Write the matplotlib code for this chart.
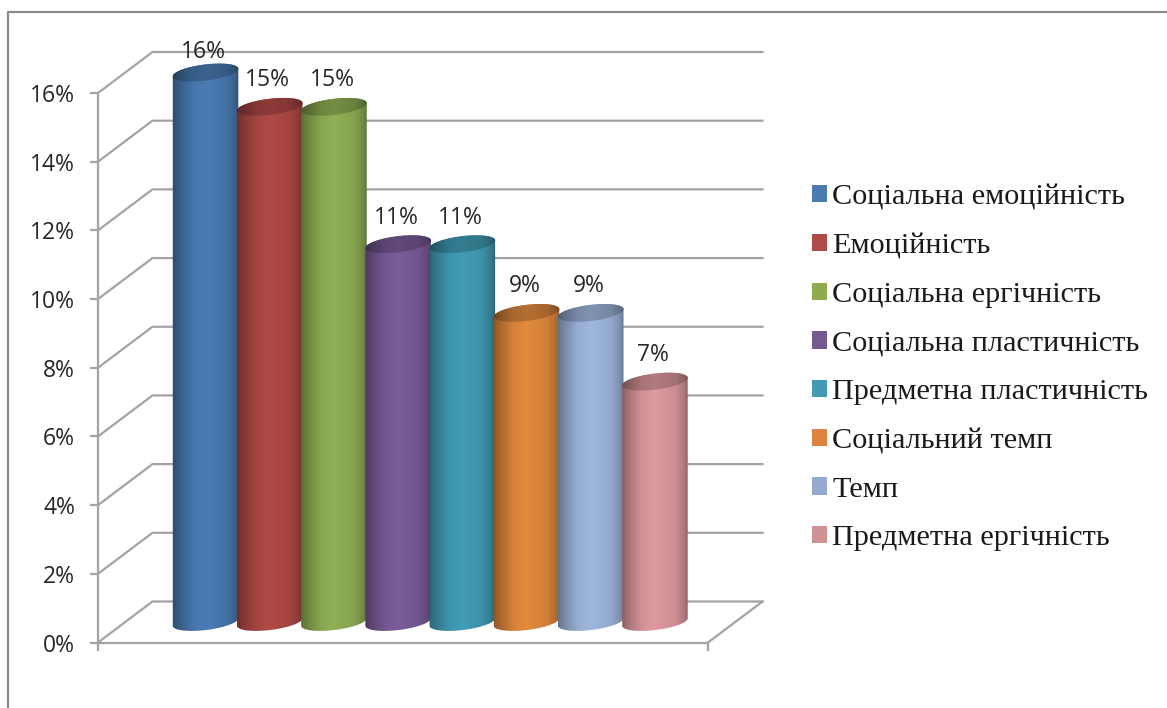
import numpy as np
import matplotlib
matplotlib.use('Agg')
import matplotlib.pyplot as plt
from matplotlib.lines import Line2D
from matplotlib.patches import Patch, Polygon
from matplotlib.colors import to_rgb

names = ['Соціальна емоційність', 'Емоційність', 'Соціальна ергічність',
         'Соціальна пластичність', 'Предметна пластичність', 'Соціальний темп',
         'Темп', 'Предметна ергічність']
values = [16, 15, 15, 11, 11, 9, 9, 7]
bar_colors = ['#4a7cb4', '#b04a47', '#91b055', '#7a5c9a', '#429db6', '#e28a3e', '#9fb7de', '#de9a9f']
legend_colors = ['#4a7cb0', '#ae4a47', '#8fab50', '#75598f', '#429bb3', '#de8440', '#95a9d2', '#d09394']
y_ticks = [0, 2, 4, 6, 8, 10, 12, 14, 16]

W, H = 1167, 708
GRID = '#a3a3a3'

fig = plt.figure(figsize=(W / 100, H / 100), dpi=100, facecolor='white')
# plot box in pixels: x 98..708, y 93..642
ax = fig.add_axes([98 / W, 1 - 642.5 / H, 610 / W, 549.5 / H])
ax.set_facecolor('none')
ax.set_xlim(0, 1)
ax.set_ylim(0, 16)
px_x = 610.0
px_y = 549.5 / 16
depth_x = 54.5 / px_x
depth_y = 41 / px_y

for s in ['top', 'right']:
    ax.spines[s].set_visible(False)
for s in ['left', 'bottom']:
    ax.spines[s].set_color(GRID)
    ax.spines[s].set_linewidth(1.6)
ax.set_xticks([0, 1])
ax.set_xticklabels(['', ''])
ax.set_yticks(y_ticks)
ax.set_yticklabels(['%d%%' % t for t in y_ticks], fontname='Open Sans', fontsize=16.5, color='#262626')
ax.tick_params(axis='both', color=GRID, width=1.6, length=6)
ax.tick_params(axis='y', pad=10.5)

# back wall and floor
for t in y_ticks:
    ax.plot([0, depth_x, 1 + depth_x], [t, t + depth_y, t + depth_y], color=GRID, lw=1.6,
            clip_on=False, zorder=1, solid_joinstyle='miter')
ax.plot([1, 1 + depth_x], [0, depth_y], color=GRID, lw=1.6, clip_on=False, zorder=1)


def ellipse(cx, cy, t):
    # tilted ellipse, worked out in pixels then put back in data units
    a, b, r = 33.0, 8.0, np.radians(7)
    x = a * np.cos(t) * np.cos(r) - b * np.sin(t) * np.sin(r)
    y = a * np.cos(t) * np.sin(r) + b * np.sin(t) * np.cos(r)
    return np.column_stack([cx + x / px_x, cy + y / px_y])


def shaded(color, factor, left, right, bottom, top, clip, z):
    pos = np.linspace(0, 1, 256)
    shade = np.interp(pos, [0, 0.08, 0.3, 0.5, 0.8, 0.93, 1], [0.6, 0.72, 0.94, 1, 0.92, 0.78, 0.62])
    img = np.clip(np.outer(shade, to_rgb(color)) * factor, 0, 1)[np.newaxis, :, :]
    im = ax.imshow(img, extent=[left, right, bottom, top], aspect='auto', zorder=z, interpolation='bilinear')
    patch = Polygon(clip, closed=True, transform=ax.transData)
    im.set_clip_path(patch)
    im.set_clip_box(fig.bbox)


t0 = np.arctan2(-8.0 * np.tan(np.radians(7)), 33.0)
upper = np.linspace(t0, t0 + np.pi, 80)
lower = np.linspace(t0 + np.pi, t0 + 2 * np.pi, 80)
step = 64.2 / px_x
half = 34 / px_x
for i, (val, col) in enumerate(zip(values, bar_colors)):
    cx = 0.5 + (i - 3.5) * step + depth_x / 2
    base = depth_y / 2
    top = base + val
    body = np.vstack([ellipse(cx, top, upper), ellipse(cx, base, lower)])
    shaded(col, 1.0, cx - half, cx + half, 0, top + 1, body, 3 + i)
    cap = ellipse(cx, top, np.linspace(0, 2 * np.pi, 160))
    shaded(col, 0.8, cx - half, cx + half, top - 1, top + 1, cap, 3 + i + 0.5)
    dy = 20 if i == 0 else 26.5
    ax.annotate('%d%%' % val, (cx, top), xytext=(-2, dy), textcoords='offset pixels',
                ha='center', va='center', fontname='Open Sans', fontsize=16.5,
                color='#262626', annotation_clip=False, zorder=20)

ax.set_xlim(0, 1)
ax.set_ylim(0, 16)

handles = [Patch(facecolor=c, edgecolor='none') for c in legend_colors]
fig.legend(handles, names, loc='center left', bbox_to_anchor=(812 / W, 1 - 368 / H), frameon=False,
           prop={'family': 'Liberation Serif', 'size': 21.8}, labelcolor='#1a1a1a',
           handlelength=0.5, handleheight=0.5, handletextpad=0.17, labelspacing=0.75,
           borderpad=0, borderaxespad=0)

# outer chart frame, only left and top are in the crop
fig.add_artist(Line2D([8 / W, 8 / W, 1], [0, 1 - 12 / H, 1 - 12 / H], color='#8c8c8c', lw=1.6,
                      transform=fig.transFigure))

fig.savefig('out.png', dpi=100)
